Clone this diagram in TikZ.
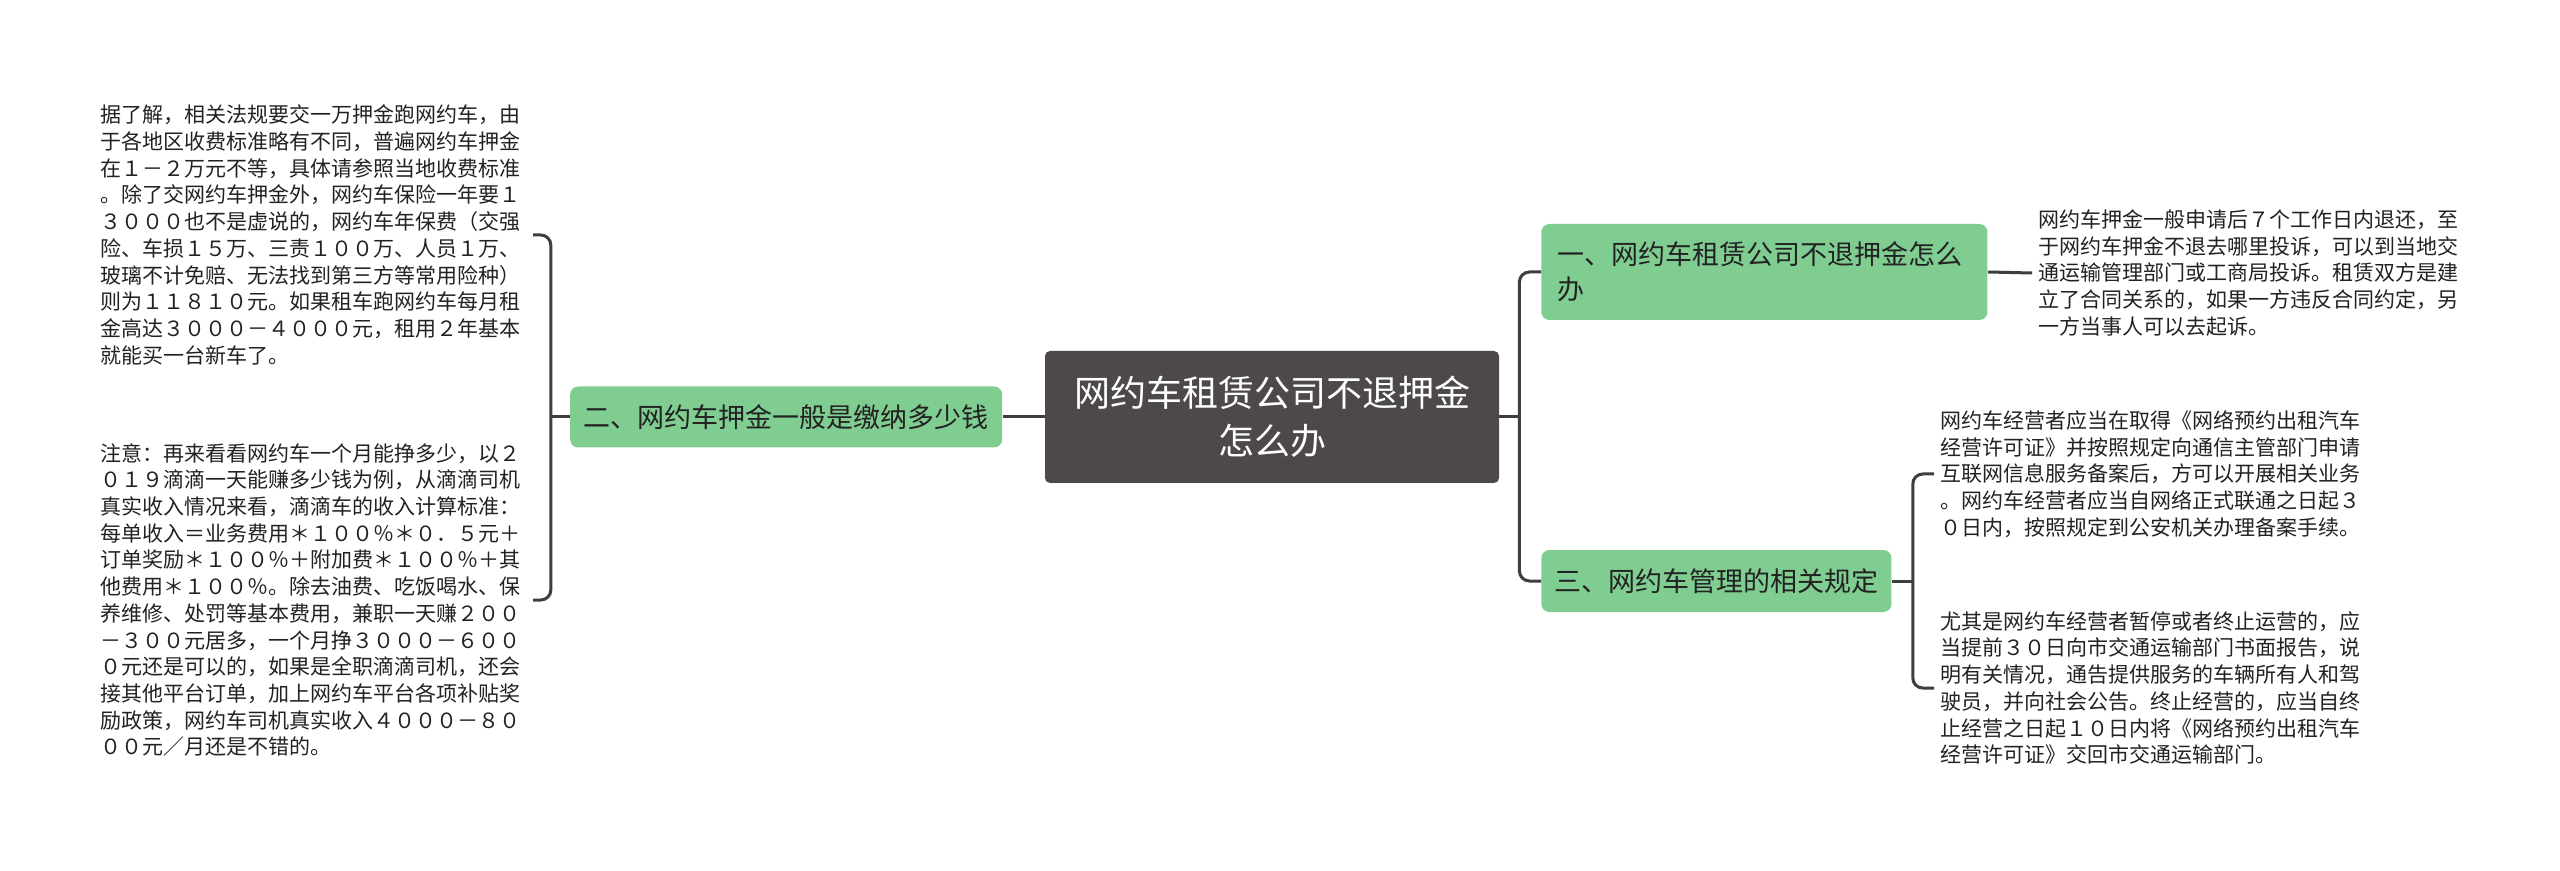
\documentclass[tikz,border=0pt]{standalone}
\usepackage{fontspec}
\newfontfamily\cjk{Noto Sans CJK SC}
\usetikzlibrary{positioning}

\definecolor{mapgreen}{RGB}{128,205,146}
\definecolor{rootgray}{RGB}{77,73,72}
\definecolor{linkgray}{RGB}{62,62,62}
\definecolor{bodytext}{RGB}{34,34,34}

\begin{document}
\begin{tikzpicture}[
  x=0.5pt, y=-0.5pt,
  root/.style={rectangle,fill=rootgray,rounded corners=2.5pt,text=white,align=center,
    minimum width=227pt,minimum height=66pt,font=\cjk\fontsize{18}{24}\selectfont},
  topic/.style={rectangle,fill=mapgreen,rounded corners=4pt,text=bodytext,inner xsep=6pt,
    font=\cjk\fontsize{13.5}{17.5}\selectfont},
  note/.style={align=left,inner sep=3pt,text width=213pt,text=bodytext,
    font=\cjk\fontsize{10.5}{13.35}\selectfont},
  link/.style={draw=linkgray,line width=1.5pt,rounded corners=5pt}
]
\fill[white] (0,0) rectangle (2560,871);
\useasboundingbox (0,0) rectangle (2560,871);

% centre and main topics
\node[root] (root) at (1272,417) {网约车租赁公司不退押金\\怎么办};
\node[topic,left=21pt of root,minimum width=216pt,minimum height=30.5pt] (topic2) {二、网约车押金一般是缴纳多少钱};
\node[topic,anchor=west,text width=207pt,inner xsep=8pt,align=left,minimum height=48pt] (topic1) at (1541,272)
  {一、网约车租赁公司不退押金怎么\\办};
\node[topic,anchor=west,minimum width=175pt,minimum height=31pt] (topic3) at (1541,581) {三、网约车管理的相关规定};

% notes on the left
\node[note,anchor=east] (deposit) at (533,235) {据了解，相关法规要交一万押金跑网约车，由\\
于各地区收费标准略有不同，普遍网约车押金\\
在１－２万元不等，具体请参照当地收费标准\\
。除了交网约车押金外，网约车保险一年要１\\
３０００也不是虚说的，网约车年保费（交强\\
险、车损１５万、三责１００万、人员１万、\\
玻璃不计免赔、无法找到第三方等常用险种）\\
则为１１８１０元。如果租车跑网约车每月租\\
金高达３０００－４０００元，租用２年基本\\
就能买一台新车了。};
\node[note,anchor=east] (income) at (533,600) {注意：再来看看网约车一个月能挣多少，以２\\
０１９滴滴一天能赚多少钱为例，从滴滴司机\\
真实收入情况来看，滴滴车的收入计算标准：\\
每单收入＝业务费用＊１００％＊０．５元＋\\
订单奖励＊１００％＋附加费＊１００％＋其\\
他费用＊１００％。除去油费、吃饭喝水、保\\
养维修、处罚等基本费用，兼职一天赚２００\\
－３００元居多，一个月挣３０００－６００\\
０元还是可以的，如果是全职滴滴司机，还会\\
接其他平台订单，加上网约车平台各项补贴奖\\
励政策，网约车司机真实收入４０００－８０\\
００元／月还是不错的。};

% notes on the right
\node[note,anchor=west] (refund) at (2032,273) {网约车押金一般申请后７个工作日内退还，至\\
于网约车押金不退去哪里投诉，可以到当地交\\
通运输管理部门或工商局投诉。租赁双方是建\\
立了合同关系的，如果一方违反合同约定，另\\
一方当事人可以去起诉。};
\node[note,anchor=west] (filing) at (1934,474) {网约车经营者应当在取得《网络预约出租汽车\\
经营许可证》并按照规定向通信主管部门申请\\
互联网信息服务备案后，方可以开展相关业务\\
。网约车经营者应当自网络正式联通之日起３\\
０日内，按照规定到公安机关办理备案手续。};
\node[note,anchor=west] (closing) at (1934,688) {尤其是网约车经营者暂停或者终止运营的，应\\
当提前３０日向市交通运输部门书面报告，说\\
明有关情况，通告提供服务的车辆所有人和驾\\
驶员，并向社会公告。终止经营的，应当自终\\
止经营之日起１０日内将《网络预约出租汽车\\
经营许可证》交回市交通运输部门。};

% connectors
\draw[link] (root.west) -- (topic2.east);
\draw[link] (topic2.west) -- ++(-19,0) coordinate (ljoin);
\draw[link] (deposit.east) -| (ljoin) |- (income.east);
\draw[link] (root.east) -- ++(20,0) coordinate (rjoin);
\draw[link] (topic1.west) -| (rjoin) |- (topic3.west);
\draw[link] (topic1.east) -- (refund.west);
\draw[link] (topic3.east) -- ++(21,0) coordinate (kjoin);
\draw[link] (filing.west) -| (kjoin) |- (closing.west);
\end{tikzpicture}
\end{document}
